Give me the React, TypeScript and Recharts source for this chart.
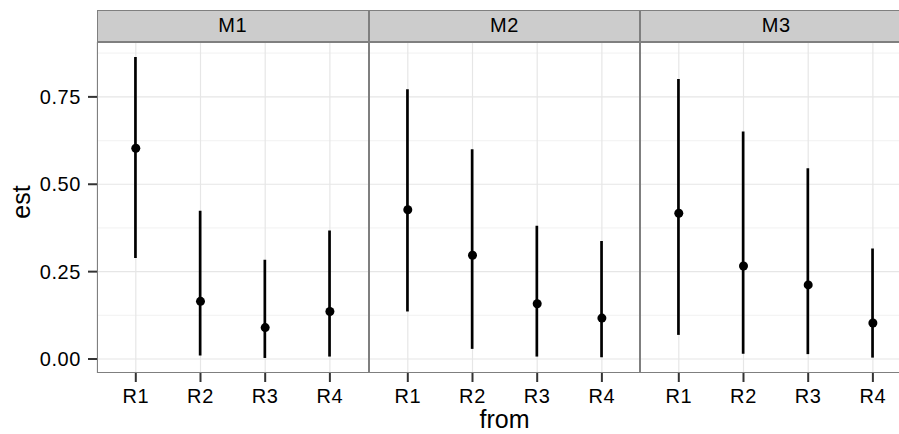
import React from "react";
import {
  ComposedChart,
  Bar,
  Scatter,
  XAxis,
  YAxis,
  CartesianGrid,
} from "recharts";

const categories = ["R1", "R2", "R3", "R4"];
const facets = ["M1", "M2", "M3"];

const m1Est = [0.603, 0.165, 0.09, 0.136];
const m1Lo = [0.289, 0.01, 0.003, 0.007];
const m1Hi = [0.864, 0.424, 0.284, 0.368];

const m2Est = [0.427, 0.297, 0.158, 0.117];
const m2Lo = [0.136, 0.029, 0.007, 0.005];
const m2Hi = [0.772, 0.6, 0.381, 0.338];

const m3Est = [0.417, 0.266, 0.212, 0.103];
const m3Lo = [0.069, 0.015, 0.014, 0.004];
const m3Hi = [0.801, 0.651, 0.546, 0.316];

const yTicks = [0, 0.25, 0.5, 0.75];
const yMinor = [0.125, 0.375, 0.625, 0.875];

const FONT = "'Liberation Sans', Arial, Helvetica, sans-serif";
const PANEL_W = 271.7;
const PANEL_TOP = 42;
const PANEL_H = 331;
const STRIP_TOP = 10;
const FIRST_LEFT = 97;
const Y_AXIS_W = 97;
const X_AXIS_H = 45;

const tickStyle = { fontFamily: FONT, fontSize: 20, fill: "#000", letterSpacing: 0.6 };

const build = (est: number[], lo: number[], hi: number[]) =>
  categories.map((c, i) => ({ from: c, est: est[i], range: [lo[i], hi[i]] }));

const facetData = [
  build(m1Est, m1Lo, m1Hi),
  build(m2Est, m2Lo, m2Hi),
  build(m3Est, m3Lo, m3Hi),
];

const RangeLine = (props: any) => {
  const { x, y, width, height } = props;
  const cx = x + width / 2;
  return (
    <line x1={cx} x2={cx} y1={y} y2={y + height} stroke="#000" strokeWidth={2.7} />
  );
};

const Dot = (props: any) => (
  <circle cx={props.cx} cy={props.cy} r={4.5} fill="#000" />
);

function Facet({ index }: { index: number }) {
  const first = index === 0;
  const left = FIRST_LEFT + index * PANEL_W;
  const chartLeft = first ? left - Y_AXIS_W : left;
  const width = first ? PANEL_W + Y_AXIS_W : PANEL_W;
  return (
    <>
      <div
        style={{
          position: "absolute",
          left,
          top: STRIP_TOP,
          width: PANEL_W,
          height: PANEL_TOP - STRIP_TOP,
          boxSizing: "border-box",
          background: "#CCCCCC",
          border: "1.5px solid #7F7F7F",
          fontFamily: FONT,
          fontSize: 20,
          letterSpacing: 0.6,
          lineHeight: `${PANEL_TOP - STRIP_TOP - 3}px`,
          textAlign: "center",
          color: "#000",
        }}
      >
        {facets[index]}
      </div>
      <div style={{ position: "absolute", left: chartLeft, top: PANEL_TOP }}>
        <ComposedChart
          width={width}
          height={PANEL_H + X_AXIS_H}
          data={facetData[index]}
          margin={{ top: 0, right: 0, bottom: 0, left: 0 }}
        >
          <CartesianGrid
            vertical={false}
            horizontalValues={yMinor}
            stroke="#F4F4F4"
            strokeWidth={1.2}
          />
          <CartesianGrid
            horizontalValues={yTicks}
            stroke="#E6E6E6"
            strokeWidth={1.2}
          />
          <XAxis
            dataKey="from"
            type="category"
            padding={{ left: 6.45, right: 6.45 }}
            axisLine={false}
            tickLine={{ stroke: "#333", strokeWidth: 2 }}
            tickSize={9}
            tickMargin={7}
            height={X_AXIS_H}
            tick={tickStyle}
            interval={0}
          />
          <YAxis
            type="number"
            domain={[-0.04, 0.907]}
            ticks={yTicks}
            hide={!first}
            width={Y_AXIS_W}
            axisLine={false}
            tickLine={{ stroke: "#333", strokeWidth: 2 }}
            tickSize={9}
            tickMargin={7}
            tickFormatter={(v: number) => v.toFixed(2)}
            tick={tickStyle}
            allowDataOverflow
          />
          <Bar
            dataKey="range"
            shape={RangeLine}
            isAnimationActive={false}
            barSize={10}
          />
          <Scatter dataKey="est" shape={Dot} isAnimationActive={false} />
        </ComposedChart>
      </div>
      <div
        style={{
          position: "absolute",
          left,
          top: PANEL_TOP,
          width: PANEL_W,
          height: PANEL_H,
          boxSizing: "border-box",
          border: "1.5px solid #7F7F7F",
          pointerEvents: "none",
        }}
      />
    </>
  );
}

export default function App() {
  return (
    <div
      style={{
        position: "absolute",
        left: 0,
        top: 0,
        width: 899,
        height: 434,
        overflow: "hidden",
        background: "#fff",
      }}
    >
      {facets.map((f, i) => (
        <Facet key={f} index={i} />
      ))}
      <div
        style={{
          position: "absolute",
          left: FIRST_LEFT,
          width: PANEL_W * 3,
          top: 405,
          textAlign: "center",
          fontFamily: FONT,
          fontSize: 25,
          lineHeight: "normal",
          color: "#000",
        }}
      >
        from
      </div>
      <div
        style={{
          position: "absolute",
          left: 20.5,
          top: 202,
          transform: "translate(-50%, -50%) rotate(-90deg)",
          fontFamily: FONT,
          fontSize: 25,
          lineHeight: "normal",
          color: "#000",
        }}
      >
        est
      </div>
    </div>
  );
}
